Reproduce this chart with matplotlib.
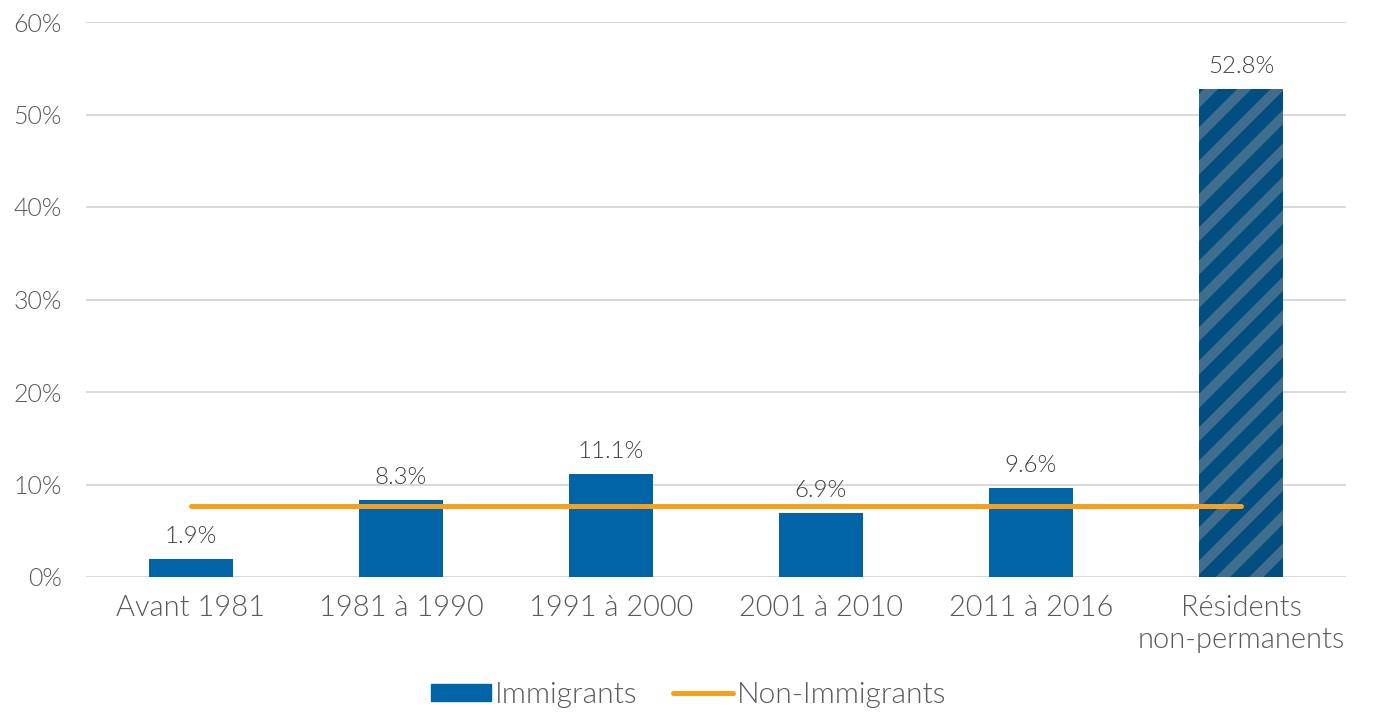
import matplotlib
matplotlib.use("Agg")
import matplotlib.pyplot as plt
import numpy as np

# data
categories = ["Avant 1981", "1981 à 1990", "1991 à 2000", "2001 à 2010",
              "2011 à 2016", "Résidents\nnon-permanents"]
immigrants = [1.9, 8.3, 11.1, 6.9, 9.6, 52.8]
non_immigrants = [7.7, 7.7, 7.7, 7.7, 7.7, 7.7]
yticks = [0, 10, 20, 30, 40, 50, 60]

DPI = 100
PX = 72.0 / DPI  # points per pixel

plt.rcParams["font.family"] = ["Lato", "DejaVu Sans"]
plt.rcParams["font.weight"] = 300
plt.rcParams["hatch.linewidth"] = 10 * PX
plt.rcParams["hatch.color"] = "#3f6d8e"

text_col = "#595959"
blue = "#0064a7"
dark_blue = "#004f80"
orange = "#f5a01e"
grid_col = "#d9d9d9"

fig = plt.figure(figsize=(1377 / DPI, 713 / DPI), dpi=DPI)
ax = fig.add_axes([86 / 1377, 1 - 577 / 713, 1260 / 1377, 555 / 713])

x = np.arange(len(categories))
colors = [blue] * (len(categories) - 1) + [dark_blue]
bars = ax.bar(x, immigrants, width=0.4, color=colors, zorder=2)
bars[-1].set_hatch("/")
bars[-1].set_edgecolor("#3f6d8e")
bars[-1].set_linewidth(0)

line, = ax.plot(x, non_immigrants, color=orange, lw=5 * PX,
                solid_capstyle="round", zorder=3)

for xi, v in zip(x, immigrants):
    ax.annotate(f"{v:.1f}%", (xi, v), xytext=(0, 12 * PX),
                textcoords="offset points", ha="center", va="bottom",
                fontsize=24 * PX, color="#404040")

ax.set_xlim(-0.5, len(categories) - 0.5)
ax.set_ylim(0, 60)
ax.set_yticks(yticks)
ax.set_yticklabels([f"{t}%" for t in yticks])
ax.set_xticks(x)
ax.set_xticklabels(categories, fontsize=29 * PX, color=text_col,
                   linespacing=1.3)
ax.tick_params(axis="y", length=0, pad=24 * PX, labelsize=25 * PX,
               labelcolor=text_col)
ax.tick_params(axis="x", length=0, pad=18 * PX)
ax.grid(axis="y", color=grid_col, lw=2 * PX, zorder=0)
ax.set_axisbelow(True)
for s in ax.spines.values():
    s.set_visible(False)

handles = [plt.Rectangle((0, 0), 1, 1, color=blue), line]
labels = ["Immigrants", "Non-Immigrants"]
fig.legend(handles, labels, loc="center", bbox_to_anchor=(0.5, 1 - 695 / 713),
           ncol=2, frameon=False, fontsize=30 * PX, labelcolor=text_col,
           handlelength=2.0, handleheight=0.5, handletextpad=0.12,
           columnspacing=1.2)

fig.savefig("out.png", dpi=DPI)
